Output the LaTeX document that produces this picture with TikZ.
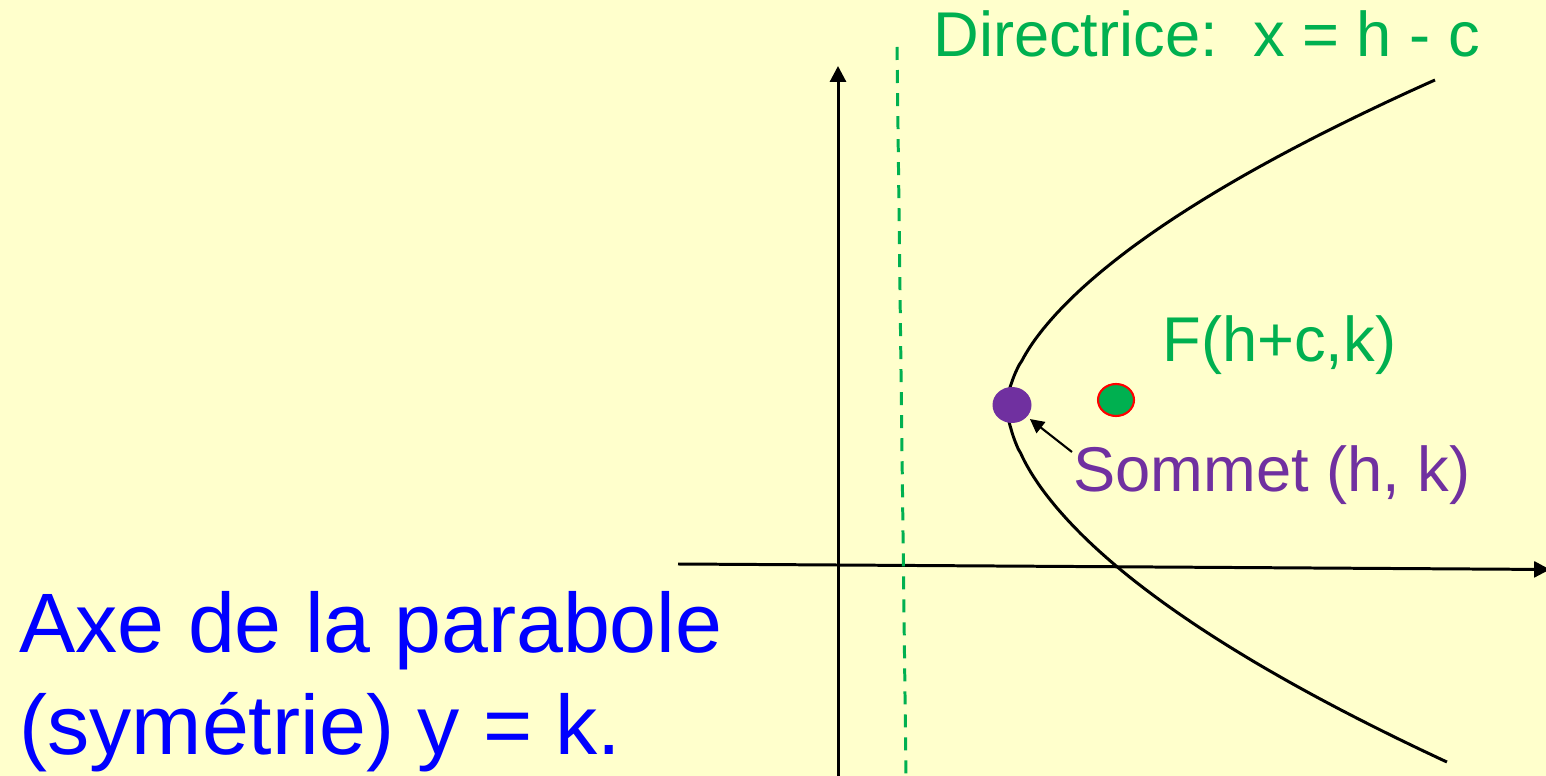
\documentclass[tikz,border=0pt]{standalone}
\usepackage{fontspec}
\setmainfont{Liberation Sans}
\usepackage{xcolor}
\usetikzlibrary{positioning, calc, arrows.meta, shapes.geometric}
\definecolor{bgyellow}{HTML}{FFFFCC}
\definecolor{dirgreen}{HTML}{00B050}
\definecolor{vpurple}{HTML}{7030A0}
\definecolor{axeblue}{HTML}{0000FF}
\tikzset{
  axisline/.style={line width=1.7pt, -{Triangle[length=9pt,width=9pt]}},
  curveline/.style={line width=1.7pt},
  dirline/.style={dirgreen, line width=1.7pt, dash pattern=on 7.4pt off 5.7pt},
  lbltext/.style={inner sep=0pt, anchor=base west, font=\fontsize{36}{43}\selectfont},
  bigtext/.style={inner sep=0pt, anchor=base west, text=axeblue, font=\fontsize{48}{58}\selectfont},
  dot/.style={ellipse, inner sep=0pt}
}

\begin{document}
\begin{tikzpicture}[x=0.02cm, y=-0.02cm]

    % --- Background ---
    \fill[bgyellow] (0,0) rectangle (1546,776);
    \useasboundingbox (0,0) rectangle (1546,776);

    % --- Axes ---
    \coordinate (ybot) at (838,776);
    \coordinate (ytop) at (838,66);
    \coordinate (xleft) at (678,564);
    \coordinate (xright) at (1550,569.5);
    \draw[axisline] (ybot) -- (ytop);
    \draw[axisline] (xleft) -- (xright);

    % Directrix (dashed)
    \coordinate (dtop) at (897,47);
    \coordinate (dbot) at (906,776);
    \draw[dirline] (dtop) -- (dbot);
    \node[lbltext, text=dirgreen] (dirlbl) at (933,57) {Directrice:\ \ x = h - c};

    % --- Parabola ---
    % upper arm, then lower arm (both start at the vertex)
    \draw[curveline] plot[domain=325:0, samples=90, variable=\t]
        ({1007+428*(\t/325)^1.7}, {405-\t});
    \draw[curveline] plot[domain=0:357, samples=90, variable=\t]
        ({1007+440*(\t/357)^1.75}, {405+\t});

    % Vertex and focus
    \node[dot, fill=vpurple, minimum width=0.78cm, minimum height=0.72cm] (vertex) at (1012,405) {};
    \node[dot, fill=dirgreen, draw=red, line width=1.2pt, minimum width=0.72cm, minimum height=0.64cm] (focus) at (1116,400) {};

    % --- Labels ---
    \node[lbltext, text=dirgreen] (flbl) at (1162,362) {F(h+c,k)};
    \node[lbltext, text=vpurple] (sommet) at (1073,492) {Sommet (h, k)};

    % Arrow to vertex
    \coordinate (stail) at (1072,452);
    \draw[line width=1.2pt, -{Triangle[length=8pt,width=8pt]}, shorten >=2pt] (stail) -- (vertex);

    % Axis of symmetry text
    \node[bigtext] (axea) at (19,653) {Axe de la parabole};
    \node[bigtext] (axeb) at (19,755) {(symétrie) y = k.};

\end{tikzpicture}
\end{document}
